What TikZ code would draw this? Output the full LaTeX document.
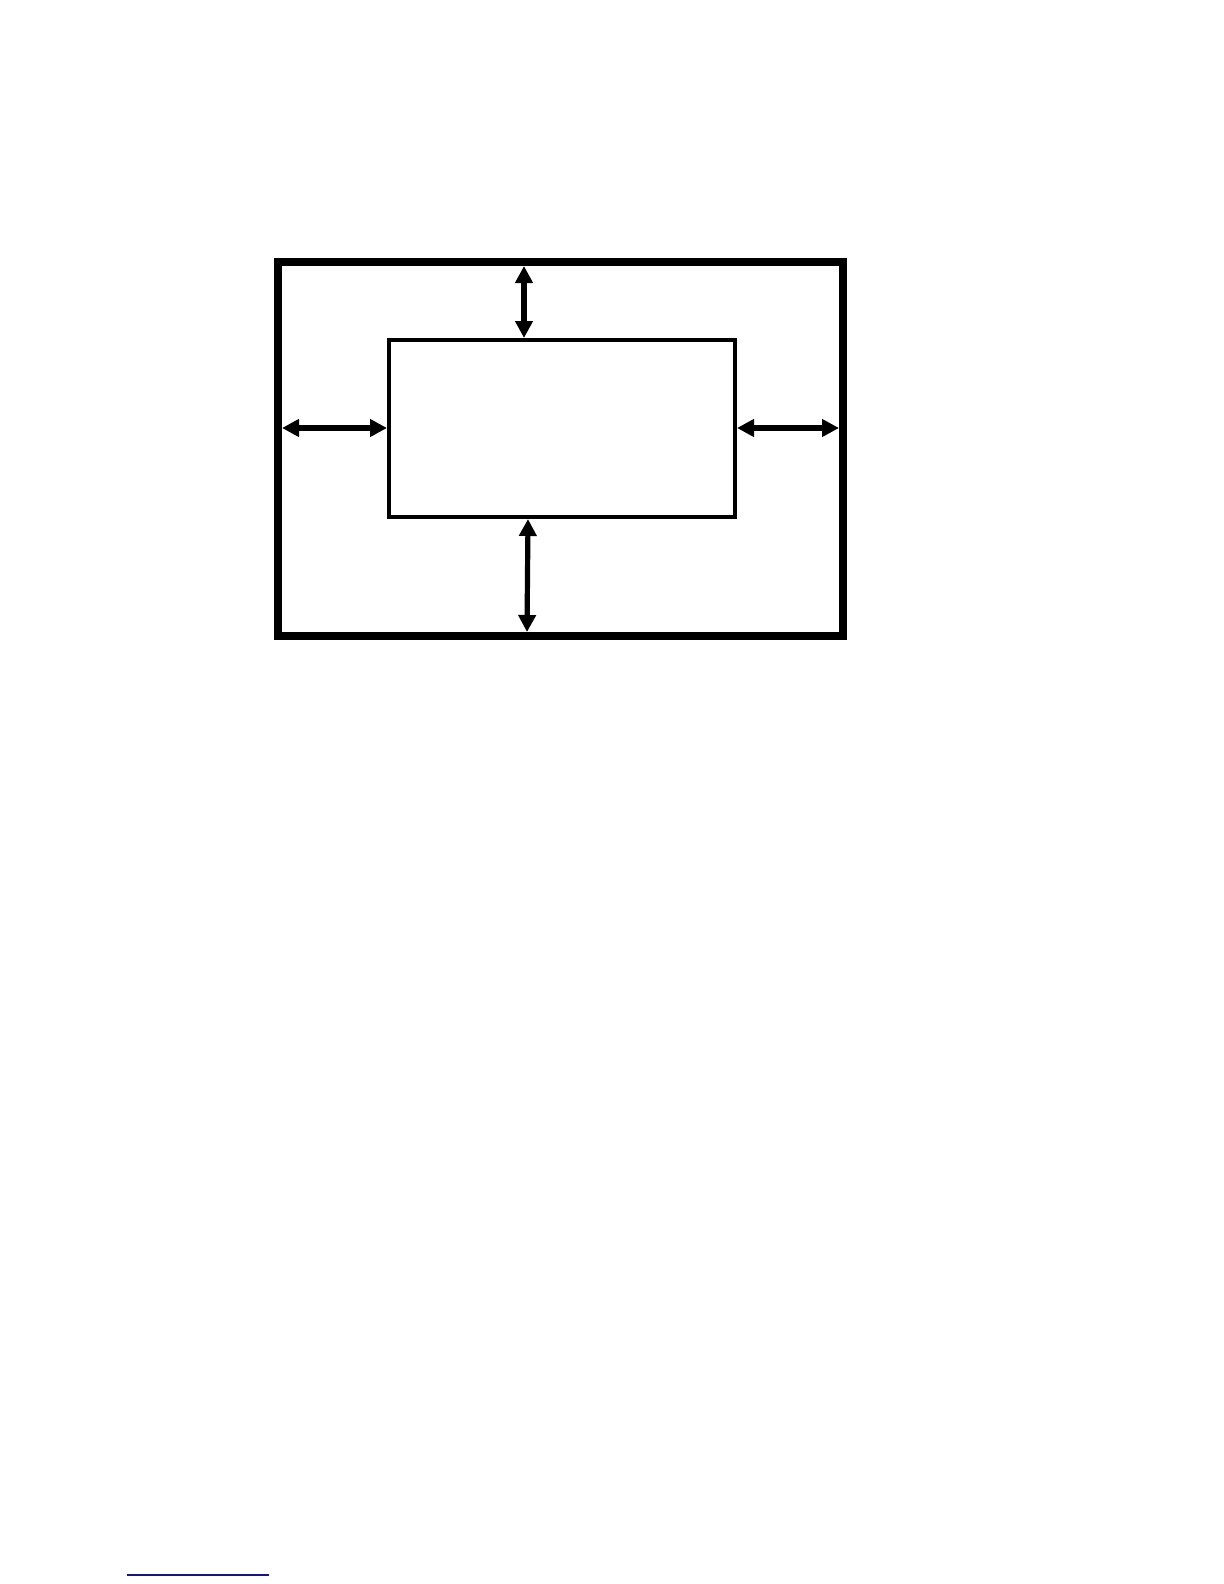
\documentclass[tikz,border=0pt]{standalone}
\usetikzlibrary{arrows.meta}

\begin{document}
\begin{tikzpicture}[x=0.5pt, y=-0.5pt,
    frame/.style={draw, rectangle, inner sep=0pt, outer sep=0pt, line width=4pt,
      minimum width=282.5pt, minimum height=187pt},
    page/.style={draw, rectangle, inner sep=0pt, outer sep=0pt, line width=2pt,
      minimum width=173pt, minimum height=88.5pt},
    margin/.style={line width=2.6pt,
      {Triangle[length=8.5pt,width=8.5pt]}-{Triangle[length=8.5pt,width=8.5pt]}}]
      \useasboundingbox (0, 0) rectangle (1224, 1584);

      \node[frame] (outer) at (560.5, 449) {};
      \node[page] (inner) at (562, 428.5) {};

      \coordinate (topA) at (524, 266);
      \coordinate (topB) at (524, 338);
      \coordinate (botA) at (528, 519);
      \coordinate (botB) at (527, 632);
      \coordinate (leftA) at (282, 428);
      \coordinate (leftB) at (387, 428);
      \coordinate (rightA) at (737, 428);
      \coordinate (rightB) at (839, 428);

      \draw[margin] (topA) -- (topB);
      \draw[margin] (botA) -- (botB);
      \draw[margin] (leftA) -- (leftB);
      \draw[margin] (rightA) -- (rightB);

      \coordinate (ruleA) at (127, 1575);
      \coordinate (ruleB) at (269, 1575);
      \draw[line width=1pt, color={rgb,255:red,20;green,20;blue,140}] (ruleA) -- (ruleB);
\end{tikzpicture}
\end{document}
